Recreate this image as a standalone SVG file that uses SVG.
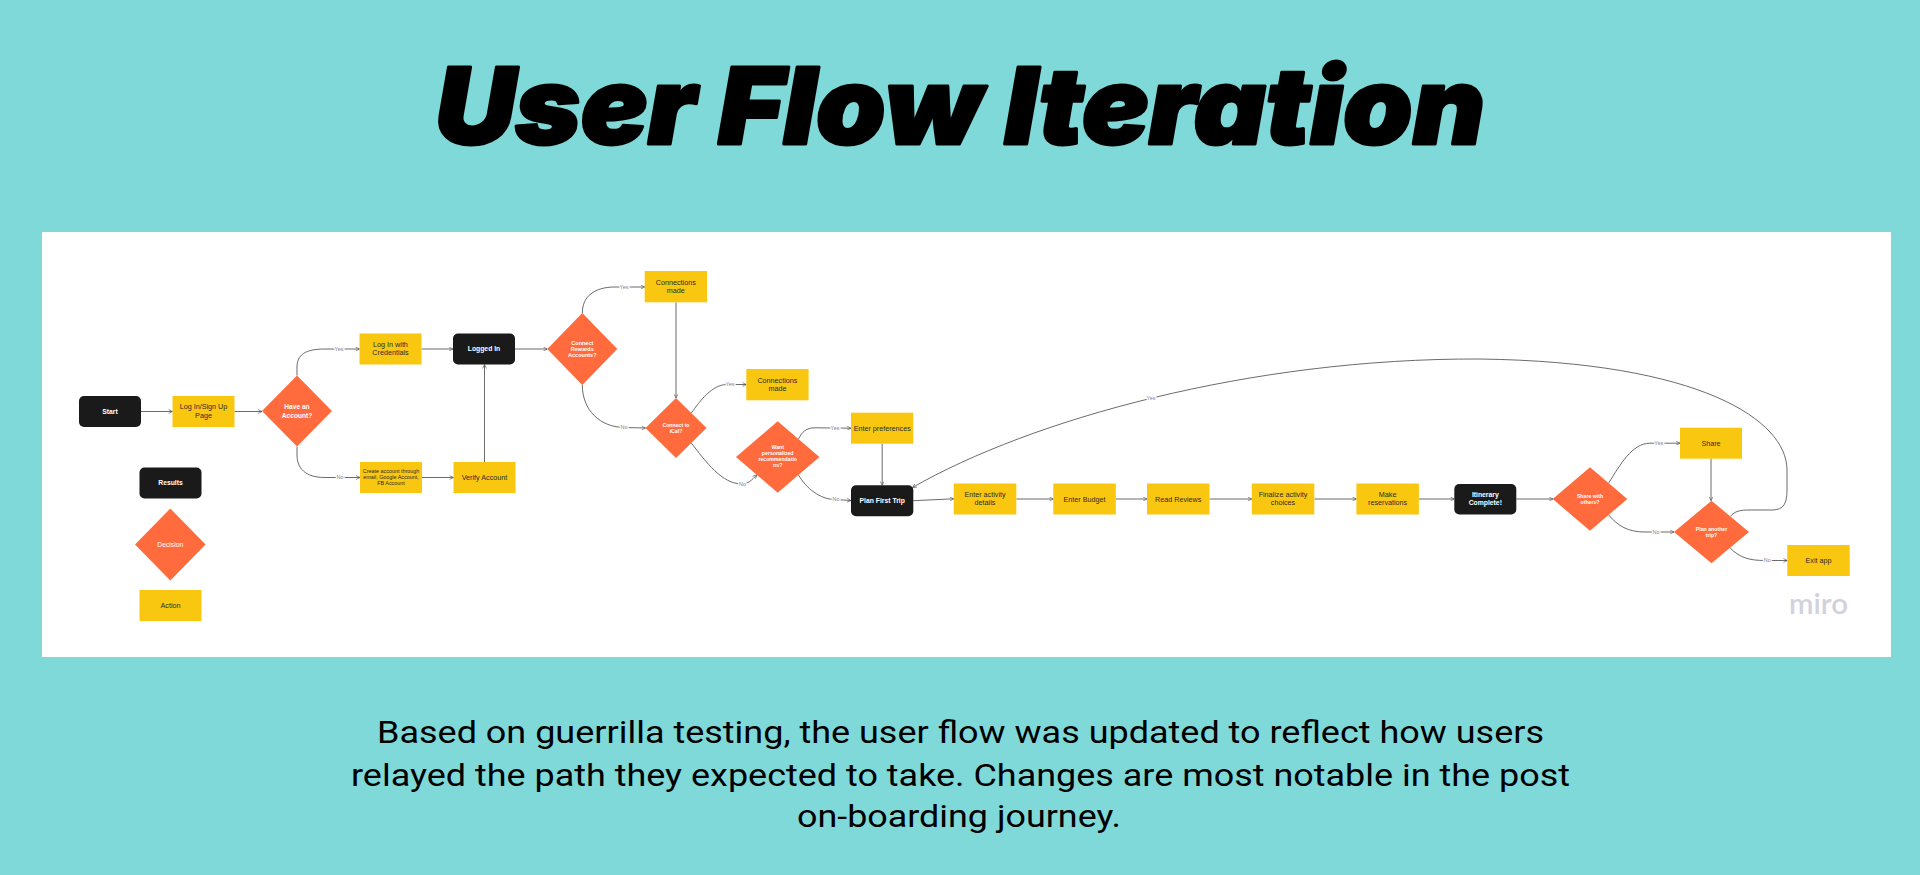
<svg xmlns="http://www.w3.org/2000/svg" width="1920" height="875" viewBox="0 0 1920 875">
<defs>
<style>
.bg{fill:#80d9d9}
.panel{fill:#ffffff}
.act{fill:#fac710}
.res{fill:#1a1a1a}
.dec{fill:#ff6b3d}
.t{font-family:"Liberation Sans",Arial,sans-serif;text-anchor:middle}
.ta{font-size:7.2px;fill:#2a2a2a}
.tr{font-size:6.8px;fill:#ffffff;font-weight:bold}
.td{font-size:6.6px;fill:#ffffff;font-weight:bold}
.ts{font-size:5.2px;fill:#ffffff;font-weight:bold}
.tsm{font-size:5.4px;fill:#2a2a2a}
.c{fill:none;stroke:#5a5a5a;stroke-width:0.9;marker-end:url(#arr)}
.lbl{font-family:"Liberation Sans",Arial,sans-serif;font-size:5.4px;fill:#7c7c96;text-anchor:middle;stroke:#ffffff;stroke-width:2.5;paint-order:stroke}
.title{font-family:"Inter","Lato",sans-serif;font-weight:900;font-style:italic;font-size:106px;fill:#000000;stroke:#000000;stroke-width:3;stroke-linejoin:round;text-anchor:middle}
.sub{font-family:Roboto,"Liberation Sans",sans-serif;font-size:32px;fill:#000000;text-anchor:middle}
</style>
<marker id="arr" viewBox="0 0 6 6" refX="5.6" refY="3" markerWidth="4.5" markerHeight="4.5" markerUnits="userSpaceOnUse" orient="auto">
<path d="M0.4,0.4 L5.6,3 L0.4,5.6" fill="none" stroke="#5a5a5a" stroke-width="0.9"/>
</marker>
</defs>
<rect class="bg" x="0" y="0" width="1920" height="875"/>
<text class="title" x="960" y="143.5" textLength="1050" lengthAdjust="spacingAndGlyphs">User Flow Iteration</text>
<rect class="panel" x="42" y="232" width="1849" height="425"/>

<g id="connectors">
<path class="c" d="M141,411.5 L172.5,411.5"/>
<path class="c" d="M234.5,411.5 L262,411.5"/>
<path class="c" d="M297,375.5 L297,367 C297,355 305,349 325,349 L359.5,349"/>
<path class="c" d="M297,446.5 L297,455 C297,468 305,477.5 325,477.5 L360,477.5"/>
<path class="c" d="M421.5,349 L453,349"/>
<path class="c" d="M422,477.5 L453.5,477.5"/>
<path class="c" d="M484.5,462 L484.5,364.5"/>
<path class="c" d="M515,349 L547.3,349"/>
<path class="c" d="M582.3,313 C582.3,296 595,287 615,287 L644.7,287"/>
<path class="c" d="M582.3,385 C582.3,410 600,427.5 625,427.5 L645.5,428"/>
<path class="c" d="M676,302.3 L676,398"/>
<path class="c" d="M691.3,413 C700,401 712,384.5 727,384.5 L746.3,384.5"/>
<path class="c" d="M691.3,443 C706,462 722,484 742,484 C748,484 752,480 756.8,474.8"/>
<path class="c" d="M798.5,439 C802,432 806,427.8 815,427.8 L851,428.2"/>
<path class="c" d="M798.5,475 C806,488 820,499.5 835,499.5 L851,500.5"/>
<path class="c" d="M882.2,443.7 L882.2,485.3"/>
<path class="c" d="M913.3,500.7 L953.8,498.8"/>
<path class="c" d="M1016.3,499 L1053.3,499"/>
<path class="c" d="M1115.8,499 L1147,499"/>
<path class="c" d="M1209.5,499 L1251.8,499"/>
<path class="c" d="M1314.3,499 L1356.4,499"/>
<path class="c" d="M1418.9,499 L1454.3,499"/>
<path class="c" d="M1516.3,499 L1553,499"/>
<path class="c" d="M1608.7,483 C1620,465 1632,443.2 1650,443.2 L1680,443.2"/>
<path class="c" d="M1608.7,515 C1618,526 1628,532 1645,532 L1674,532"/>
<path class="c" d="M1711,458.7 L1711,500.7"/>
<path class="c" d="M1730.2,548 C1740,558 1750,560.5 1765,560.5 L1787.3,560.5"/>
<path class="c" d="M1730.2,516.5 C1735,511 1740,510 1750,510 L1772,510 C1784,510 1787,503 1787,490 L1787,470 C1787,420 1700,362 1480,359 C1250,358 1030,420 912.5,487.5"/>
<text class="lbl" x="339" y="350.9">Yes</text>
<text class="lbl" x="340" y="479.4">No</text>
<text class="lbl" x="624" y="288.9">Yes</text>
<text class="lbl" x="624" y="429.2">No</text>
<text class="lbl" x="730" y="386.3">Yes</text>
<text class="lbl" x="742.5" y="485.6">No</text>
<text class="lbl" x="835" y="429.6">Yes</text>
<text class="lbl" x="836" y="501.4">No</text>
<text class="lbl" x="1151" y="399.9">Yes</text>
<text class="lbl" x="1658.7" y="445.1">Yes</text>
<text class="lbl" x="1656" y="533.8">No</text>
<text class="lbl" x="1767.3" y="562.3">No</text>
</g>

<g id="start"><rect class="res" x="79" y="396" width="62" height="31" rx="5"/><text class="t tr" x="110" y="414">Start</text></g>
<g id="login-page"><rect class="act" x="172.5" y="396" width="62" height="31"/><text class="t ta" x="203.5" y="409.3">Log In/Sign Up</text><text class="t ta" x="203.5" y="417.7">Page</text></g>
<g id="have-account"><polygon class="dec" points="297,375.5 332,411 297,446.5 262,411"/><text class="t td" x="297" y="409">Have an</text><text class="t td" x="297" y="417.7">Account?</text></g>
<g id="login-credentials"><rect class="act" x="359.5" y="333.5" width="62" height="31"/><text class="t ta" x="390.5" y="346.8">Log In with</text><text class="t ta" x="390.5" y="355.4">Credentials</text></g>
<g id="logged-in"><rect class="res" x="453" y="333.5" width="62" height="31" rx="5"/><text class="t tr" x="484" y="351.4">Logged In</text></g>
<g id="create-account"><rect class="act" x="360" y="462" width="62" height="31"/><text class="t tsm" x="391" y="472.6">Create account through</text><text class="t tsm" x="391" y="478.7">email, Google Account,</text><text class="t tsm" x="391" y="485.1">FB Account</text></g>
<g id="verify-account"><rect class="act" x="453.5" y="462" width="62" height="31"/><text class="t ta" x="484.5" y="480">Verify Account</text></g>
<g id="legend-results"><rect class="res" x="139.5" y="467.5" width="62" height="31" rx="5"/><text class="t tr" x="170.5" y="485.4">Results</text></g>
<g id="legend-decision"><polygon class="dec" points="170.3,508.5 205.6,544.5 170.3,580.5 135,544.5"/><text class="t" x="170.3" y="546.9" style="font-size:6.8px;fill:#ffffff">Decision</text></g>
<g id="legend-action"><rect class="act" x="139.5" y="590" width="62" height="31"/><text class="t ta" x="170.5" y="607.9">Action</text></g>
<g id="connect-rewards"><polygon class="dec" points="582.3,313 617.3,349 582.3,385 547.3,349"/><text class="t ts" x="582.3" y="345.3" style="font-size:5.5px">Connect</text><text class="t ts" x="582.3" y="351" style="font-size:5.5px">Rewards</text><text class="t ts" x="582.3" y="356.8" style="font-size:5.5px">Accounts?</text></g>
<g id="connections-made-1"><rect class="act" x="644.7" y="271" width="62.3" height="31.3"/><text class="t ta" x="675.8" y="284.8">Connections</text><text class="t ta" x="675.8" y="293.2">made</text></g>
<g id="connect-ical"><polygon class="dec" points="676,398 706.5,428 676,458 645.5,428"/><text class="t ts" x="676" y="426.9">Connect to</text><text class="t ts" x="676" y="432.9">iCal?</text></g>
<g id="connections-made-2"><rect class="act" x="746.3" y="369" width="62.3" height="31.3"/><text class="t ta" x="777.4" y="382.5">Connections</text><text class="t ta" x="777.4" y="390.6">made</text></g>
<g id="want-recommendations"><polygon class="dec" points="777.7,421.3 819.4,457 777.7,492.7 736,457"/><text class="t ts" x="777.7" y="448.9">Want</text><text class="t ts" x="777.7" y="454.9">personalized</text><text class="t ts" x="777.7" y="460.9">recommendatio</text><text class="t ts" x="777.7" y="466.9">ns?</text></g>
<g id="enter-preferences"><rect class="act" x="851" y="412.7" width="62.3" height="31"/><text class="t ta" x="882.2" y="430.7">Enter preferences</text></g>
<g id="plan-first-trip"><rect class="res" x="851" y="485.3" width="62.3" height="31" rx="5"/><text class="t tr" x="882.2" y="503.2">Plan First Trip</text></g>
<g id="enter-activity"><rect class="act" x="953.8" y="483.5" width="62.5" height="31"/><text class="t ta" x="985" y="497.4">Enter activity</text><text class="t ta" x="985" y="505.4">details</text></g>
<g id="enter-budget"><rect class="act" x="1053.3" y="483.5" width="62.5" height="31"/><text class="t ta" x="1084.5" y="501.5">Enter Budget</text></g>
<g id="read-reviews"><rect class="act" x="1147" y="483.5" width="62.5" height="31"/><text class="t ta" x="1178.2" y="501.5">Read Reviews</text></g>
<g id="finalize-activity"><rect class="act" x="1251.8" y="483.5" width="62.5" height="31"/><text class="t ta" x="1283" y="497.4">Finalize activity</text><text class="t ta" x="1283" y="505.4">choices</text></g>
<g id="make-reservations"><rect class="act" x="1356.4" y="483.5" width="62.5" height="31"/><text class="t ta" x="1387.6" y="497.4">Make</text><text class="t ta" x="1387.6" y="505.4">reservations</text></g>
<g id="itinerary-complete"><rect class="res" x="1454.3" y="484" width="62" height="30.5" rx="5"/><text class="t tr" x="1485.3" y="497.4">Itinerary</text><text class="t tr" x="1485.3" y="505.2">Complete!</text></g>
<g id="share-with-others"><polygon class="dec" points="1590,467.2 1627.3,499 1590,530.8 1552.7,499"/><text class="t ts" x="1590" y="497.9">Share with</text><text class="t ts" x="1590" y="503.6">others?</text></g>
<g id="share"><rect class="act" x="1680" y="427.7" width="62" height="31"/><text class="t ta" x="1711" y="445.7">Share</text></g>
<g id="plan-another-trip"><polygon class="dec" points="1711.5,500.7 1749,532 1711.5,563.3 1674,532"/><text class="t ts" x="1711.5" y="530.9">Plan another</text><text class="t ts" x="1711.5" y="536.9">trip?</text></g>
<g id="exit-app"><rect class="act" x="1787.3" y="545" width="62.4" height="31"/><text class="t ta" x="1818.5" y="563">Exit app</text></g>
<text x="1818.5" y="613.5" style="font-family:Lato,'Noto Sans',sans-serif;font-size:28px;font-weight:600;fill:#d2d2de;text-anchor:middle" textLength="59" lengthAdjust="spacingAndGlyphs">miro</text>

<text class="sub" x="960.5" y="743" textLength="1167" lengthAdjust="spacingAndGlyphs">Based on guerrilla testing, the user flow was updated to reflect how users</text>
<text class="sub" x="960.5" y="785.5" textLength="1219" lengthAdjust="spacingAndGlyphs">relayed the path they expected to take. Changes are most notable in the post</text>
<text class="sub" x="959" y="827" textLength="324" lengthAdjust="spacingAndGlyphs">on-boarding journey.</text>
</svg>
